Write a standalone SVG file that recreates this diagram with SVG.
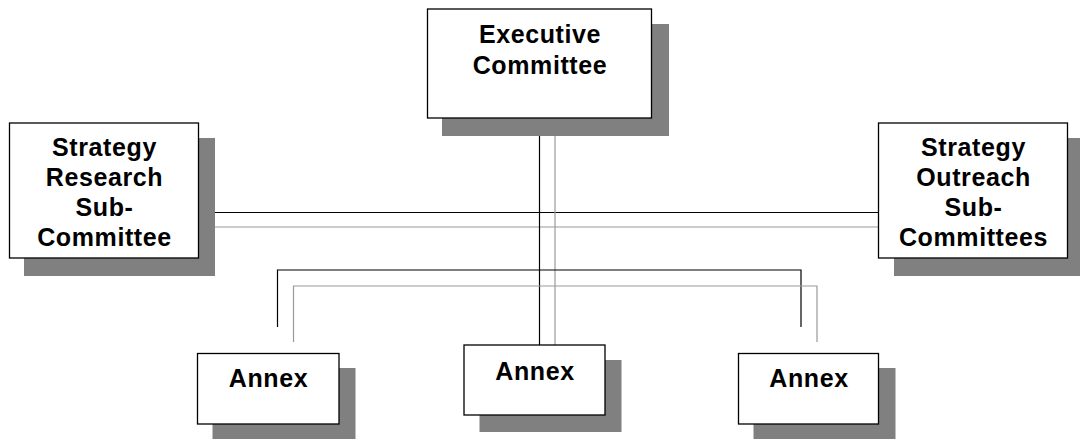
<svg xmlns="http://www.w3.org/2000/svg" width="1080" height="439" viewBox="0 0 1080 439">
<style>
.shadow{fill:#808080;stroke:none}
.box{fill:#ffffff;stroke:#000000;stroke-width:1.3}
.lbl{font-family:"Liberation Sans",Arial,sans-serif;font-weight:bold;font-size:25px;letter-spacing:0.6px;fill:#000;text-anchor:middle}
.blk{fill:none;stroke:#000000;stroke-width:1.2}
.gry{fill:none;stroke:#999999;stroke-width:1.2}
</style>
<rect width="1080" height="439" fill="#ffffff"/>
<g id="connectors">
<line class="blk" x1="199" y1="212.5" x2="878" y2="212.5"/>
<line class="gry" x1="199" y1="227" x2="878" y2="227"/>
<line class="blk" x1="539.5" y1="118" x2="539.5" y2="345"/>
<line class="gry" x1="555" y1="136" x2="555" y2="345"/>
<polyline class="blk" points="277.5,327 277.5,270 801,270 801,327"/>
<polyline class="gry" points="293.5,342 293.5,286 817,286 817,342"/>
</g>
<g id="exec">
<rect class="shadow" x="442" y="24" width="227" height="112"/>
<rect class="box" x="427.5" y="9" width="224" height="109"/>
<text class="lbl" x="540" y="43">Executive</text>
<text class="lbl" x="540" y="74">Committee</text>
</g>
<g id="research">
<rect class="shadow" x="24" y="138" width="191" height="138"/>
<rect class="box" x="9.5" y="123" width="189" height="135"/>
<text class="lbl" x="104.5" y="156">Strategy</text>
<text class="lbl" x="104.5" y="186">Research</text>
<text class="lbl" x="104.5" y="216">Sub-</text>
<text class="lbl" x="104.5" y="246">Committee</text>
</g>
<g id="outreach">
<rect class="shadow" x="894" y="138" width="186" height="138"/>
<rect class="box" x="878.5" y="123" width="189" height="135"/>
<text class="lbl" x="973.5" y="156">Strategy</text>
<text class="lbl" x="973.5" y="186">Outreach</text>
<text class="lbl" x="973.5" y="216">Sub-</text>
<text class="lbl" x="973.5" y="246">Committees</text>
</g>
<g id="annex-left">
<rect class="shadow" x="212.5" y="368" width="143" height="71"/>
<rect class="box" x="197.5" y="353.5" width="141.5" height="70.5"/>
<text class="lbl" x="268.5" y="387">Annex</text>
</g>
<g id="annex-mid">
<rect class="shadow" x="479.5" y="360" width="142" height="72"/>
<rect class="box" x="464" y="345" width="141" height="70"/>
<text class="lbl" x="535" y="379.5">Annex</text>
</g>
<g id="annex-right">
<rect class="shadow" x="753.5" y="368" width="142" height="71"/>
<rect class="box" x="738.5" y="353.5" width="140" height="70.5"/>
<text class="lbl" x="809" y="387">Annex</text>
</g>
</svg>
